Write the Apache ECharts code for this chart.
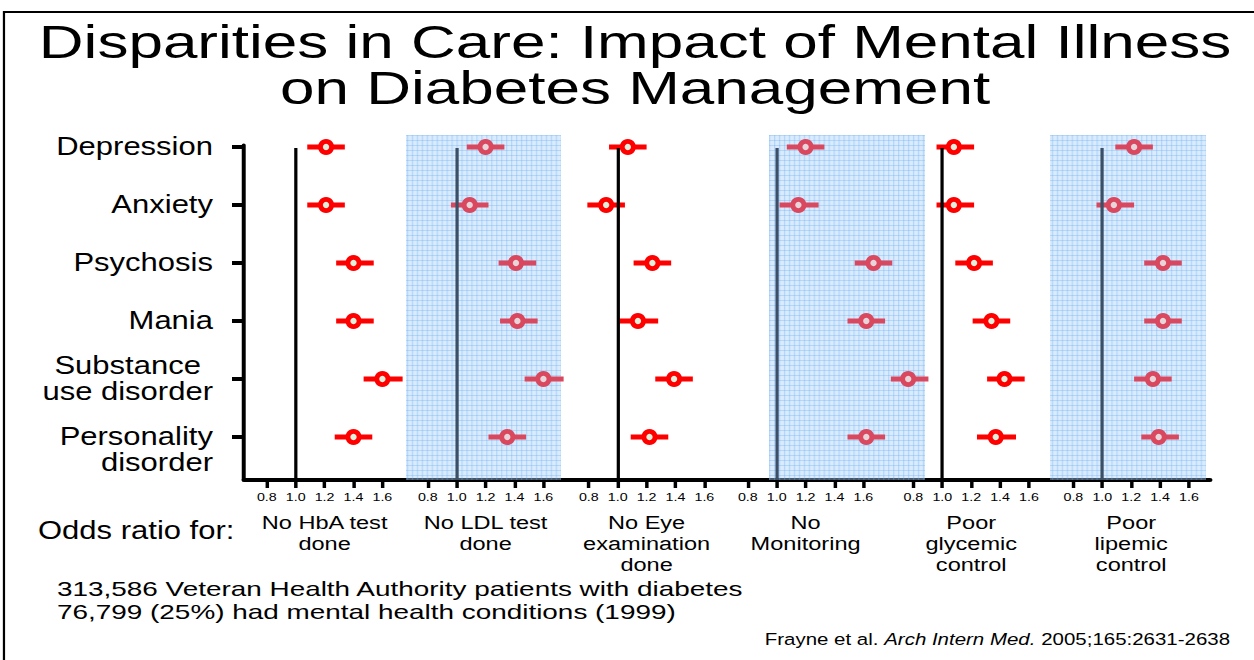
<!DOCTYPE html>
<html>
<head>
<meta charset="utf-8">
<title>Disparities in Care</title>
<script src="https://cdn.jsdelivr.net/npm/echarts@6/dist/echarts.min.js"></script>
<style>
html, body { margin: 0; padding: 0; background: #fff; overflow: hidden; }
/* the slide is laid out narrow and stretched sideways, like the original */
#main { width: 1011px; height: 660px; transform: scaleX(1.24036); transform-origin: 0 0; }
</style>
</head>
<body>
<div id="main"></div>
<script>
var conditions = ['Depression', 'Anxiety', 'Psychosis', 'Mania', 'Substance\nuse disorder', 'Personality\ndisorder'];
var outcomes = ['No HbA test\ndone', 'No LDL test\ndone', 'No Eye\nexamination\ndone', 'No\nMonitoring', 'Poor\nglycemic\ncontrol', 'Poor\nlipemic\ncontrol'];
var tickValues = [0.8, 1.0, 1.2, 1.4, 1.6];

// odds ratio + 95% CI per outcome, same order as conditions
var orHbA = [1.21, 1.21, 1.40, 1.40, 1.60, 1.40];
var ciHbA = [[1.08, 1.34], [1.08, 1.34], [1.28, 1.54], [1.28, 1.54], [1.47, 1.74], [1.27, 1.53]];
var orLDL = [1.20, 1.09, 1.41, 1.42, 1.60, 1.35];
var ciLDL = [[1.07, 1.33], [0.96, 1.22], [1.29, 1.55], [1.30, 1.56], [1.47, 1.74], [1.22, 1.48]];
var orEye = [1.07, 0.92, 1.24, 1.14, 1.39, 1.22];
var ciEye = [[0.94, 1.20], [0.79, 1.05], [1.11, 1.37], [1.01, 1.28], [1.26, 1.52], [1.09, 1.35]];
var orMon = [1.20, 1.15, 1.67, 1.62, 1.91, 1.62];
var ciMon = [[1.07, 1.33], [1.02, 1.29], [1.54, 1.80], [1.49, 1.75], [1.79, 2.05], [1.49, 1.75]];
var orGly = [1.08, 1.08, 1.22, 1.34, 1.43, 1.37];
var ciGly = [[0.96, 1.22], [0.96, 1.22], [1.09, 1.35], [1.21, 1.47], [1.31, 1.57], [1.24, 1.51]];
var orLip = [1.22, 1.08, 1.42, 1.42, 1.35, 1.39];
var ciLip = [[1.09, 1.35], [0.96, 1.22], [1.29, 1.55], [1.29, 1.55], [1.22, 1.48], [1.27, 1.53]];

var oddsRatios = [orHbA, orLDL, orEye, orMon, orGly, orLip];
var intervals = [ciHbA, ciLDL, ciEye, ciMon, ciGly, ciLip];

// layout (slide pixels)
var SX = 1254 / 1011;
var PPU = 144.5;
var oneAt = [295.7, 456.7, 617.7, 776.7, 942.3, 1102.3];
var panelSpan = [[244, 406], [406, 561], [561, 730], [730, 930], [905, 1050], [1050, 1210]];
var shadeSpan = [null, [406, 561], null, [769, 925], null, [1050, 1206]];
var Y_FIRST = 147, Y_STEP = 58, AXIS_Y = 480, PLOT_TOP = 135, YAXIS_TOP = 145, REF_TOP = 148;
var FONT = '"Liberation Sans", Arial, sans-serif';

function toVal(i, px) { return 1 + (px - oneAt[i]) / PPU; }
function rowAt(py) { return (py - Y_FIRST) / Y_STEP; }

// light blue graph-paper fill for the shaded panels
var tile = document.createElement('canvas');
tile.width = 4; tile.height = 5;
var g = tile.getContext('2d');
g.fillStyle = 'rgba(165,208,250,0.42)';
g.fillRect(0, 0, 4, 5);
g.fillStyle = 'rgba(110,175,240,0.35)';
g.fillRect(0, 0, 1, 5);
g.fillRect(0, 0, 4, 1);

function makeRender(shaded) {
    var ring = shaded ? '#d9485e' : '#ff0000';
    var fill = shaded ? '#e8d5da' : '#dff0dc';
    return function (params, api) {
        var row = api.value(0);
        var c = api.coord([api.value(1), row]);
        var lo = api.coord([api.value(2), row]);
        var hi = api.coord([api.value(3), row]);
        return {
            type: 'group',
            children: [
                {type: 'line', shape: {x1: lo[0], y1: c[1], x2: hi[0], y2: c[1]}, style: {stroke: ring, lineWidth: 5}},
                {type: 'circle', x: c[0], y: c[1], scaleX: 1 / SX, shape: {cx: 0, cy: 0, r: 5.6},
                    style: {fill: fill, stroke: ring, lineWidth: 4.8}}
            ]
        };
    };
}

function conditionLabel(v) {
    var k = Math.round(v);
    var lines = conditions[k].split('\n');
    if (k === 4) return '{c|' + lines[0] + '}\n{r|' + lines[1] + '}';
    if (k === 5) return '{r| }\n{r|' + lines[0] + '}\n{r|' + lines[1] + '}';
    return '{r|' + lines.join('}\n{r|') + '}';
}
var labelRich = {
    r: {fontSize: 25, lineHeight: 26, fontFamily: FONT, color: '#000', align: 'right'},
    c: {fontSize: 25, lineHeight: 26, fontFamily: FONT, color: '#000', align: 'center'}
};

var grids = [], xAxes = [], yAxes = [], series = [];
for (var i = 0; i < 6; i++) {
    var span = panelSpan[i];
    var shaded = !!shadeSpan[i];
    grids.push({left: span[0] / SX, width: (span[1] - span[0]) / SX, top: PLOT_TOP, height: AXIS_Y - PLOT_TOP});
    xAxes.push({
        gridIndex: i, type: 'value', min: toVal(i, span[0]), max: toVal(i, span[1]),
        axisLine: {show: true, onZero: false, lineStyle: {color: '#000', width: 4}},
        axisTick: {show: true, customValues: tickValues, length: 8, lineStyle: {color: '#000', width: 2.8}},
        axisLabel: {
            show: true, customValues: tickValues, fontSize: 11.5, color: '#000', margin: 11, fontFamily: FONT,
            formatter: function (v) { return v.toFixed(1); }
        },
        splitLine: {show: false}
    });
    yAxes.push({gridIndex: i, type: 'value', inverse: true, min: rowAt(PLOT_TOP), max: rowAt(AXIS_Y), show: false});

    var data = [];
    for (var k = 0; k < conditions.length; k++) {
        data.push([k, oddsRatios[i][k], intervals[i][k][0], intervals[i][k][1]]);
    }
    series.push({
        type: 'custom', xAxisIndex: i, yAxisIndex: i, z: 3,
        renderItem: makeRender(shaded),
        encode: {x: [1, 2, 3], y: 0},
        data: data,
        markLine: {
            silent: true, symbol: 'none', label: {show: false},
            lineStyle: {color: shaded ? '#3b4f66' : '#000', width: 2.6, type: 'solid'},
            data: [[{coord: [1, rowAt(REF_TOP)]}, {coord: [1, rowAt(AXIS_Y)]}]]
        }
    });
    if (shaded) {
        series.push({
            type: 'scatter', xAxisIndex: i, yAxisIndex: i, z: 1, data: [],
            markArea: {
                silent: true,
                itemStyle: {color: {image: tile, repeat: 'repeat', imageWidth: 4, imageHeight: 5}},
                data: [[{xAxis: toVal(i, shadeSpan[i][0])}, {xAxis: toVal(i, shadeSpan[i][1])}]]
            }
        });
    }
}

// left axis with the condition names; the last name sits on its own axis so the
// automatic overlap hiding does not drop either of the two-line names
for (var a = 0; a < 2; a++) {
    grids.push({left: 244 / SX, width: 1, top: YAXIS_TOP, height: AXIS_Y - YAXIS_TOP});
    xAxes.push({gridIndex: 6 + a, type: 'value', min: 0, max: 1, show: false});
    yAxes.push({
        gridIndex: 6 + a, type: 'value', inverse: true, min: rowAt(YAXIS_TOP), max: rowAt(AXIS_Y),
        axisLine: {show: a === 0, lineStyle: {color: '#000', width: 3.2}},
        axisTick: {show: a === 0, customValues: [0, 1, 2, 3, 4, 5], length: 12 / SX, lineStyle: {color: '#000', width: 4}},
        axisLabel: {
            show: true, customValues: a === 0 ? [0, 1, 2, 3, 4] : [5], margin: 25,
            hideOverlap: false, showMinLabel: true, showMaxLabel: true,
            formatter: conditionLabel, rich: labelRich
        },
        splitLine: {show: false}
    });
}

var chart = echarts.init(document.getElementById('main'), null, {renderer: 'svg'});
chart.setOption({
    backgroundColor: '#fff',
    animation: false,
    grid: grids,
    xAxis: xAxes,
    yAxis: yAxes,
    series: series
});

var graphics = [
    {type: 'polyline', shape: {points: [[3.2, 660], [3.2, 12], [1011, 12]]}, style: {stroke: '#000', lineWidth: 1.8, fill: null}},
    {type: 'text', x: 512, y: 65, scaleX: 50 / 46, style: {
        text: 'Disparities in Care: Impact of Mental Illness\non Diabetes Management',
        fontSize: 46, lineHeight: 46, fontFamily: FONT, fill: '#000', align: 'center', verticalAlign: 'middle'
    }},
    {type: 'text', x: 38 / SX, y: 530.5, style: {text: 'Odds ratio for:', fontSize: 25, fontFamily: FONT, fill: '#000', align: 'left', verticalAlign: 'middle'}},
    {type: 'text', x: 57 / SX, y: 578, scaleX: 22.5 / 21, style: {
        text: '313,586 Veteran Health Authority patients with diabetes\n76,799 (25%) had mental health conditions (1999)',
        fontSize: 21, lineHeight: 22.5, fontFamily: FONT, fill: '#000', align: 'left', verticalAlign: 'top'
    }},
    {type: 'text', x: 1230 / SX, y: 639, style: {
        text: '{n|Frayne et al. }{i|Arch Intern Med.}{n| 2005;165:2631-2638}',
        align: 'right', verticalAlign: 'middle',
        rich: {
            n: {fontSize: 16.5, fontFamily: FONT, fill: '#000'},
            i: {fontSize: 16.5, fontFamily: FONT, fill: '#000', fontStyle: 'italic'}
        }
    }}
];
for (var j = 0; j < outcomes.length; j++) {
    var cx = chart.convertToPixel({xAxisIndex: j}, 1.2);
    graphics.push({type: 'text', x: cx, y: 512, style: {
        text: outcomes[j], fontSize: 19, lineHeight: 21, fontFamily: FONT, fill: '#000', align: 'center', verticalAlign: 'top'
    }});
}
chart.setOption({graphic: graphics});
</script>
</body>
</html>
